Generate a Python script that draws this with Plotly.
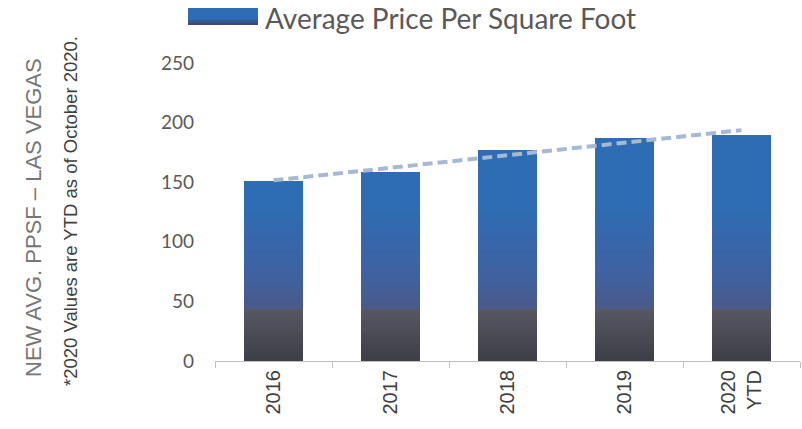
import numpy as np
import plotly.graph_objects as go

# ---- data ----
categories = ["2016", "2017", "2018", "2019", "2020<br>YTD"]
ppsf_values = [151, 158.6, 176.8, 187.5, 189.2]
y_tick_values = [0, 50, 100, 150, 200, 250]
series_name = "Average Price Per Square Foot"
y_title = "NEW AVG. PPSF – LAS VEGAS"
y_subtitle = "*2020 Values are YTD as of October 2020."

vals = np.array(ppsf_values, dtype=float)

# ---- gradient colours by value level ----
stop_v = [0, 43, 43.01, 47, 68, 110, 130, 250]
stop_c = [(62, 62, 72), (88, 88, 100), (74, 90, 138), (74, 90, 138), (64, 97, 160),
          (53, 105, 173), (46, 109, 180), (46, 109, 180)]


def col_at(v):
    r = np.interp(v, stop_v, [c[0] for c in stop_c])
    g = np.interp(v, stop_v, [c[1] for c in stop_c])
    b = np.interp(v, stop_v, [c[2] for c in stop_c])
    return f"rgb({int(r)},{int(g)},{int(b)})"


fig = go.Figure()
step = 2.0
grad_top = 130.0
lo = 0.0
while lo < grad_top:
    h = np.clip(vals - lo, 0, step + 0.8)
    fig.add_trace(go.Bar(x=categories, y=h, base=lo, width=0.5,
                         marker=dict(color=col_at(lo + step / 2), line=dict(width=0)),
                         showlegend=False, hoverinfo="skip"))
    lo += step
fig.add_trace(go.Bar(x=categories, y=np.clip(vals - grad_top, 0, None), base=grad_top, width=0.5,
                     marker=dict(color="rgb(46,109,180)", line=dict(width=0)),
                     showlegend=False, name=series_name))

# linear trendline fitted to the data
idx = np.arange(len(vals))
slope, icpt = np.polyfit(idx, vals, 1)
tx = [categories[0], categories[-1]]
ty = [icpt, icpt + slope * idx[-1]]
fig.add_trace(go.Scatter(x=tx, y=ty, mode="lines",
                         line=dict(color="#a6b9d2", width=4, dash="10px,5px"),
                         showlegend=False, hoverinfo="skip"))

# screen-pixel layout (page body margin removed below)
W, H = 802, 429
L = 215
T = 63
R = W - 800
B = H - 361
pw = W - L - R
ph = H - T - B


def px_x(p):
    return (p - L) / pw


def px_y(p):
    return (H - B - p) / ph


# custom legend
sw = [(8, 20, "#2e6db4"), (20, 23, "#36578f"), (23, 25, "#3f4a6a")]
for y0, y1, c in sw:
    fig.add_shape(type="rect", xref="paper", yref="paper",
                  x0=px_x(188), x1=px_x(258), y0=px_y(y1), y1=px_y(y0),
                  fillcolor=c, line=dict(width=0))
fig.add_annotation(xref="paper", yref="paper", x=px_x(264), y=px_y(18),
                   xanchor="left", yanchor="middle", text=series_name, showarrow=False,
                   borderpad=0,
                   font=dict(family="Lato", size=28, color="#595959"))

fig.add_annotation(xref="paper", yref="paper", x=px_x(33), y=px_y(218),
                   xanchor="center", yanchor="middle", text=y_title, showarrow=False,
                   textangle=-90, font=dict(family="Liberation Sans", size=22, color="#767676"))
fig.add_annotation(xref="paper", yref="paper", x=px_x(71), y=px_y(211),
                   xanchor="center", yanchor="middle", text=y_subtitle, showarrow=False,
                   textangle=-90, font=dict(family="Liberation Sans", size=18.5, color="#404040"))

fig.update_layout(
    width=W, height=H,
    margin=dict(l=L, r=R, t=T, b=B, autoexpand=False),
    paper_bgcolor="white", plot_bgcolor="white",
    barmode="overlay", bargap=0,
    showlegend=False,
    xaxis=dict(range=[-0.5, 4.5], tickson="boundaries", ticks="outside", ticklen=6,
               tickcolor="#bfbfbf", showline=True, linecolor="#bfbfbf", linewidth=1,
               showgrid=False, zeroline=False, tickangle=-90, automargin=False,
               tickfont=dict(family="Liberation Sans", size=20, color="#404040")),
    yaxis=dict(range=[0, 250], tickvals=y_tick_values, showgrid=False, zeroline=False,
               showline=False, ticks="", ticklabelstandoff=20, automargin=False,
               tickfont=dict(family="Lato", size=19, color="#595959")),
)

fig.write_html("out.html", config={"displayModeBar": False},
               post_script="document.body.style.margin='0';document.body.style.overflow='hidden';")
